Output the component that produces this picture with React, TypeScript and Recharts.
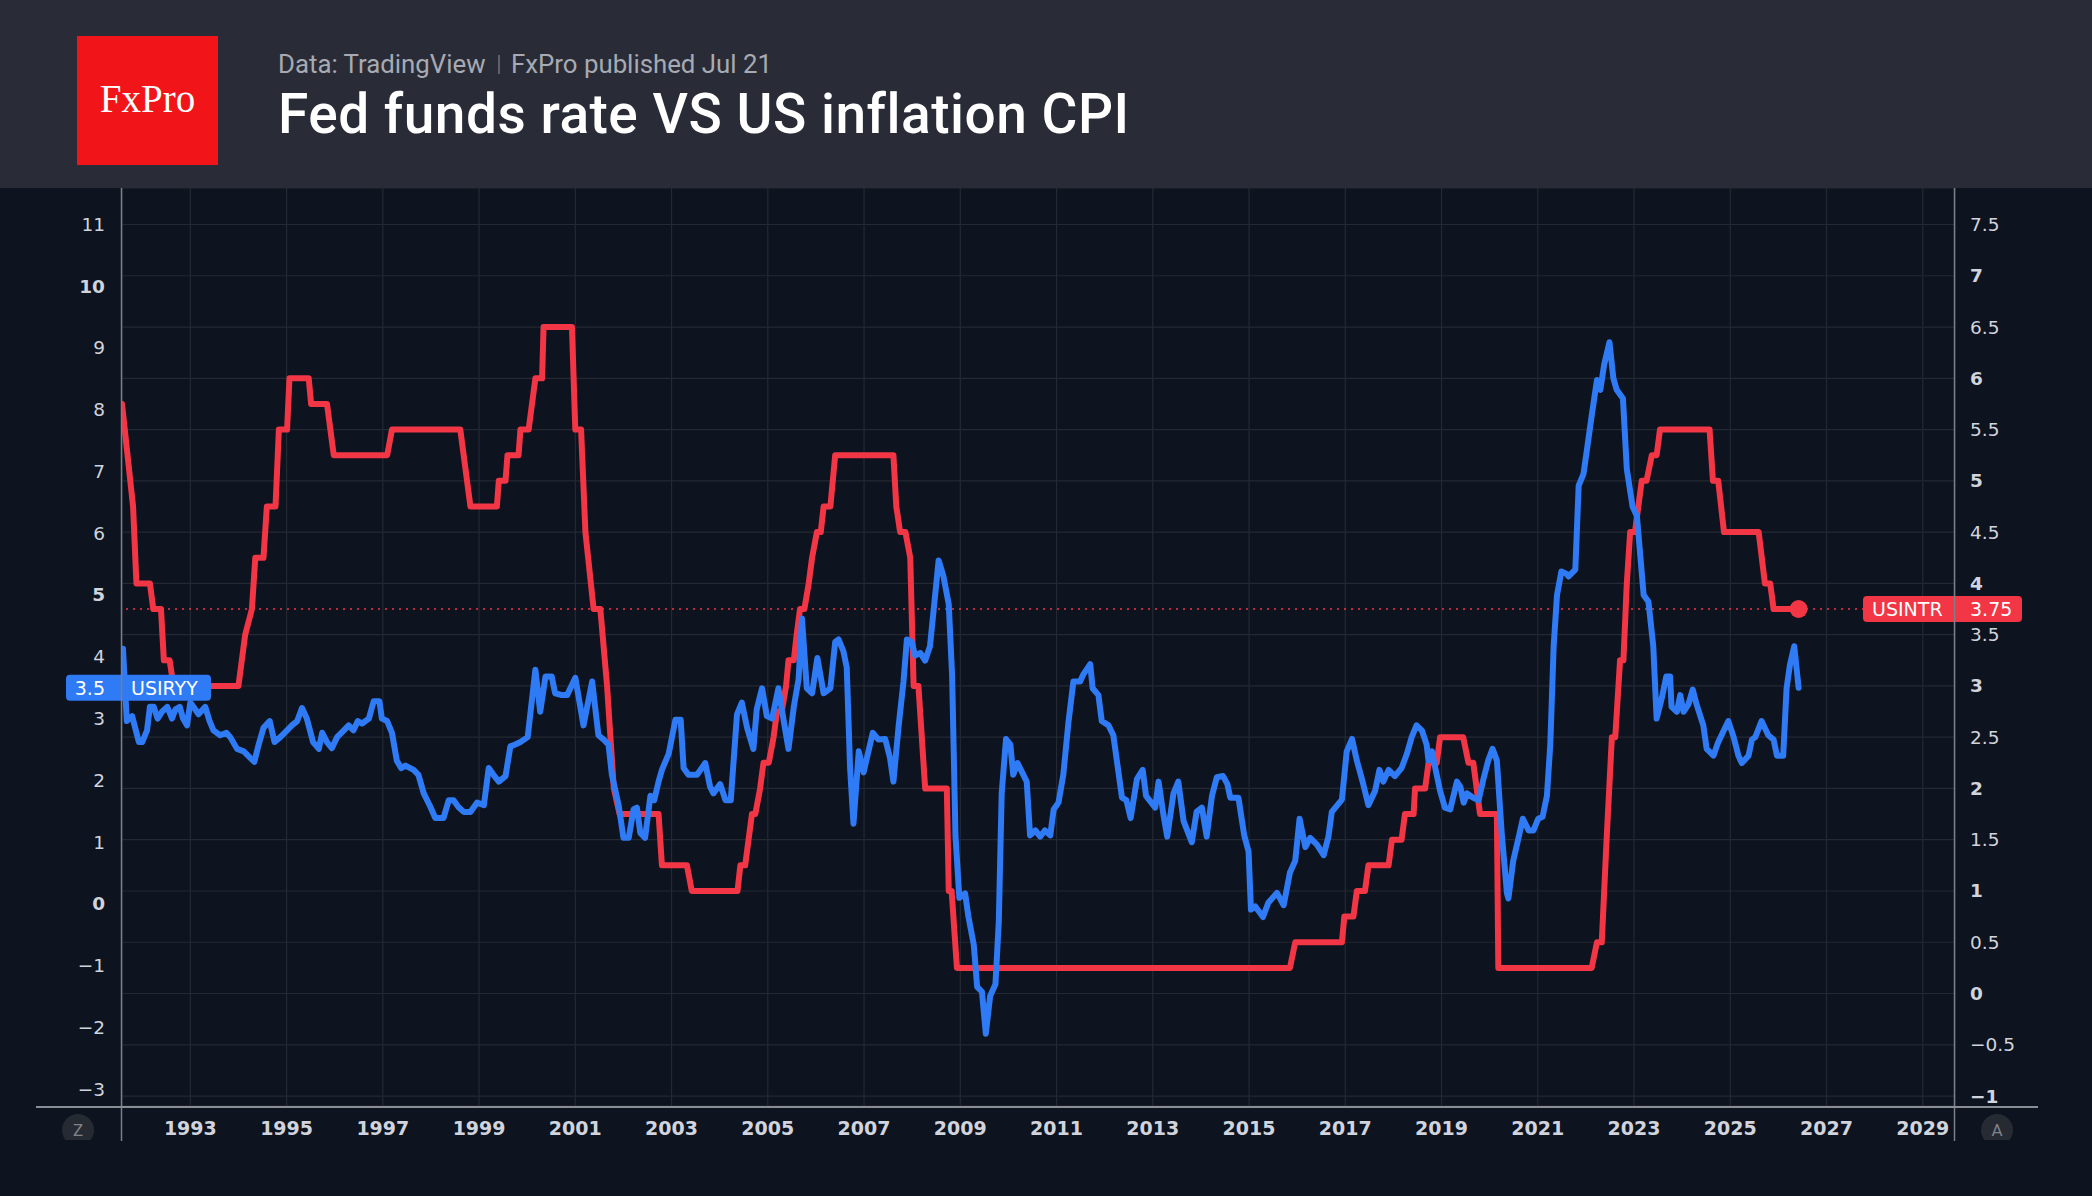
import React from 'react';
import {
  LineChart,
  Line,
  XAxis,
  YAxis,
  CartesianGrid,
  ReferenceLine,
  ReferenceDot,
} from 'recharts';

// axis ticks
const yearTicks = [1993, 1995, 1997, 1999, 2001, 2003, 2005, 2007, 2009, 2011, 2013, 2015, 2017, 2019, 2021, 2023, 2025, 2027, 2029];
const cpiTicks = [-3, -2, -1, 0, 1, 2, 3, 4, 5, 6, 7, 8, 9, 10, 11];
const rateTicks = [-1, -0.5, 0, 0.5, 1, 1.5, 2, 2.5, 3, 3.5, 4, 4.5, 5, 5.5, 6, 6.5, 7, 7.5];

// USINTR: Fed funds target rate, % (decimal year, value)
const fedFunds: [number, number][] = [
  [1991.58, 5.75], [1991.81, 4.75], [1991.88, 4.0], [1992.16, 4.0], [1992.23, 3.75], [1992.39, 3.75],
  [1992.45, 3.25], [1992.57, 3.25], [1992.65, 3.0], [1994.0, 3.0], [1994.14, 3.5], [1994.28, 3.75],
  [1994.35, 4.25], [1994.52, 4.25], [1994.59, 4.75], [1994.77, 4.75], [1994.84, 5.5], [1995.01, 5.5],
  [1995.06, 6.0], [1995.46, 6.0], [1995.51, 5.75], [1995.84, 5.75], [1995.98, 5.25], [1997.09, 5.25],
  [1997.19, 5.5], [1998.61, 5.5], [1998.82, 4.75], [1999.37, 4.75], [1999.41, 5.0], [1999.55, 5.0],
  [1999.59, 5.25], [1999.82, 5.25], [1999.86, 5.5], [2000.03, 5.5], [2000.17, 6.0], [2000.31, 6.0],
  [2000.34, 6.5], [2000.93, 6.5], [2001.0, 5.5], [2001.12, 5.5], [2001.21, 4.5], [2001.38, 3.75],
  [2001.52, 3.75], [2001.66, 3.0], [2001.8, 2.0], [2001.92, 1.75], [2002.73, 1.75], [2002.8, 1.25],
  [2003.32, 1.25], [2003.42, 1.0], [2004.37, 1.0], [2004.43, 1.25], [2004.53, 1.25], [2004.6, 1.5],
  [2004.67, 1.75], [2004.74, 1.75], [2004.84, 2.0], [2004.91, 2.25], [2005.02, 2.25], [2005.12, 2.5],
  [2005.19, 2.75], [2005.29, 2.75], [2005.38, 3.0], [2005.43, 3.25], [2005.54, 3.25], [2005.6, 3.5],
  [2005.67, 3.75], [2005.76, 3.75], [2005.85, 4.0], [2005.92, 4.25], [2006.02, 4.5], [2006.1, 4.5],
  [2006.16, 4.75], [2006.3, 4.75], [2006.4, 5.25], [2007.61, 5.25], [2007.67, 4.75], [2007.75, 4.5],
  [2007.86, 4.5], [2007.96, 4.25], [2008.03, 3.0], [2008.13, 3.0], [2008.27, 2.0], [2008.72, 2.0],
  [2008.76, 1.0], [2008.82, 1.0], [2008.93, 0.25], [2015.85, 0.25], [2015.96, 0.5], [2016.93, 0.5],
  [2016.98, 0.75], [2017.17, 0.75], [2017.24, 1.0], [2017.41, 1.0], [2017.48, 1.25], [2017.9, 1.25],
  [2017.97, 1.5], [2018.17, 1.5], [2018.24, 1.75], [2018.42, 1.75], [2018.45, 2.0], [2018.66, 2.0],
  [2018.73, 2.25], [2018.9, 2.25], [2018.97, 2.5], [2019.45, 2.5], [2019.56, 2.25], [2019.66, 2.25],
  [2019.8, 1.75], [2020.15, 1.75], [2020.18, 0.25], [2022.12, 0.25], [2022.23, 0.5], [2022.33, 0.5],
  [2022.43, 1.5], [2022.54, 2.5], [2022.61, 2.5], [2022.71, 3.25], [2022.78, 3.25], [2022.85, 4.0],
  [2022.92, 4.5], [2023.02, 4.5], [2023.16, 5.0], [2023.26, 5.0], [2023.37, 5.25], [2023.47, 5.25],
  [2023.54, 5.5], [2024.57, 5.5], [2024.64, 5.0], [2024.75, 5.0], [2024.87, 4.5], [2025.59, 4.5],
  [2025.72, 4.0], [2025.83, 4.0], [2025.9, 3.75], [2026.42, 3.75],
];

// USIRYY: CPI inflation, % year over year (decimal year, value)
const cpiYoY: [number, number][] = [
  [1991.6, 4.13], [1991.68, 2.96], [1991.79, 3.04], [1991.93, 2.62], [1992.0, 2.62], [1992.1, 2.81],
  [1992.16, 3.19], [1992.24, 3.19], [1992.32, 3.0], [1992.41, 3.11], [1992.52, 3.19], [1992.62, 3.0],
  [1992.69, 3.15], [1992.78, 3.19], [1992.85, 3.0], [1992.93, 2.89], [1993.0, 3.26], [1993.1, 3.15],
  [1993.17, 3.07], [1993.31, 3.19], [1993.4, 2.96], [1993.48, 2.81], [1993.62, 2.73], [1993.75, 2.77],
  [1993.83, 2.7], [1993.97, 2.51], [1994.11, 2.47], [1994.25, 2.36], [1994.33, 2.3], [1994.42, 2.58],
  [1994.52, 2.85], [1994.65, 2.96], [1994.75, 2.62], [1994.87, 2.7], [1995.01, 2.81], [1995.11, 2.89],
  [1995.22, 2.96], [1995.32, 3.17], [1995.42, 3.0], [1995.55, 2.62], [1995.67, 2.51], [1995.74, 2.77],
  [1995.84, 2.62], [1995.94, 2.52], [1996.05, 2.7], [1996.19, 2.81], [1996.29, 2.89], [1996.39, 2.81],
  [1996.48, 2.96], [1996.57, 2.92], [1996.71, 3.0], [1996.81, 3.28], [1996.93, 3.28], [1996.98, 3.0],
  [1997.09, 2.96], [1997.19, 2.77], [1997.29, 2.32], [1997.38, 2.2], [1997.47, 2.24], [1997.64, 2.17],
  [1997.74, 2.09], [1997.85, 1.79], [1997.99, 1.57], [1998.09, 1.39], [1998.26, 1.39], [1998.37, 1.68],
  [1998.47, 1.68], [1998.57, 1.57], [1998.68, 1.49], [1998.82, 1.49], [1998.96, 1.64], [1999.1, 1.6],
  [1999.2, 2.2], [1999.3, 2.09], [1999.41, 1.98], [1999.55, 2.07], [1999.65, 2.55], [1999.75, 2.58],
  [1999.86, 2.62], [2000.01, 2.7], [2000.17, 3.79], [2000.27, 3.11], [2000.38, 3.68], [2000.51, 3.68],
  [2000.58, 3.41], [2000.72, 3.38], [2000.83, 3.38], [2001.0, 3.66], [2001.17, 2.89], [2001.35, 3.6],
  [2001.48, 2.73], [2001.59, 2.66], [2001.69, 2.58], [2001.76, 2.09], [2001.9, 1.6], [2002.0, 1.07],
  [2002.11, 1.07], [2002.21, 1.53], [2002.28, 1.56], [2002.35, 1.15], [2002.45, 1.07], [2002.56, 1.75],
  [2002.64, 1.68], [2002.73, 1.98], [2002.8, 2.17], [2002.94, 2.43], [2003.08, 2.98], [2003.19, 2.98],
  [2003.25, 2.2], [2003.35, 2.09], [2003.53, 2.09], [2003.7, 2.28], [2003.8, 1.9], [2003.87, 1.79],
  [2004.01, 1.94], [2004.12, 1.68], [2004.23, 1.68], [2004.36, 3.07], [2004.46, 3.26], [2004.57, 2.85],
  [2004.7, 2.51], [2004.77, 3.15], [2004.88, 3.49], [2004.98, 3.04], [2005.09, 3.0], [2005.22, 3.49],
  [2005.29, 3.15], [2005.43, 2.51], [2005.54, 3.19], [2005.64, 3.64], [2005.71, 4.62], [2005.81, 3.49],
  [2005.92, 3.41], [2006.03, 3.98], [2006.16, 3.41], [2006.3, 3.49], [2006.4, 4.24], [2006.47, 4.28],
  [2006.57, 4.09], [2006.64, 3.83], [2006.71, 2.2], [2006.78, 1.3], [2006.89, 2.47], [2006.99, 2.13],
  [2007.18, 2.77], [2007.3, 2.66], [2007.44, 2.67], [2007.54, 2.36], [2007.61, 1.98], [2007.72, 2.89],
  [2007.82, 3.6], [2007.89, 4.28], [2007.99, 4.24], [2008.06, 4.02], [2008.17, 4.06], [2008.27, 3.94],
  [2008.37, 4.17], [2008.55, 5.56], [2008.65, 5.3], [2008.76, 4.85], [2008.83, 3.7], [2008.9, 1.1],
  [2008.98, 0.1], [2009.1, 0.17], [2009.17, -0.21], [2009.28, -0.66], [2009.35, -1.34], [2009.45, -1.42],
  [2009.53, -2.1], [2009.62, -1.49], [2009.73, -1.3], [2009.8, -0.28], [2009.86, 1.79], [2009.95, 2.67],
  [2010.04, 2.58], [2010.1, 2.09], [2010.19, 2.28], [2010.38, 1.98], [2010.45, 1.11], [2010.56, 1.19],
  [2010.66, 1.09], [2010.76, 1.19], [2010.87, 1.11], [2010.94, 1.53], [2011.04, 1.64], [2011.14, 2.09],
  [2011.25, 2.96], [2011.35, 3.6], [2011.49, 3.6], [2011.56, 3.72], [2011.7, 3.88], [2011.75, 3.49],
  [2011.87, 3.38], [2011.94, 2.96], [2012.08, 2.89], [2012.18, 2.73], [2012.36, 1.72], [2012.45, 1.68],
  [2012.54, 1.39], [2012.67, 2.02], [2012.79, 2.17], [2012.86, 1.75], [2013.05, 1.56], [2013.12, 1.98],
  [2013.22, 1.45], [2013.3, 1.09], [2013.43, 1.79], [2013.53, 1.98], [2013.64, 1.34], [2013.81, 1.0],
  [2013.91, 1.49], [2014.02, 1.56], [2014.12, 1.09], [2014.23, 1.75], [2014.33, 2.05], [2014.46, 2.07],
  [2014.55, 1.94], [2014.61, 1.72], [2014.78, 1.72], [2014.9, 1.11], [2014.99, 0.85], [2015.04, -0.09],
  [2015.13, -0.04], [2015.29, -0.21], [2015.4, 0.02], [2015.58, 0.18], [2015.72, -0.02], [2015.85, 0.51],
  [2015.96, 0.7], [2016.05, 1.38], [2016.17, 0.92], [2016.27, 1.07], [2016.41, 0.96], [2016.55, 0.79],
  [2016.65, 1.09], [2016.72, 1.49], [2016.93, 1.69], [2017.03, 2.47], [2017.14, 2.67], [2017.24, 2.32],
  [2017.36, 1.98], [2017.48, 1.6], [2017.62, 1.83], [2017.71, 2.17], [2017.79, 1.98], [2017.9, 2.17],
  [2018.03, 2.07], [2018.17, 2.2], [2018.28, 2.43], [2018.38, 2.7], [2018.48, 2.89], [2018.59, 2.81],
  [2018.69, 2.58], [2018.73, 2.32], [2018.8, 2.47], [2018.87, 2.2], [2018.97, 1.83], [2019.07, 1.56],
  [2019.18, 1.53], [2019.32, 1.98], [2019.39, 1.9], [2019.46, 1.64], [2019.53, 1.79], [2019.66, 1.72],
  [2019.77, 1.68], [2019.87, 2.02], [2019.97, 2.32], [2020.06, 2.51], [2020.15, 2.32], [2020.25, 1.15],
  [2020.36, 0.17], [2020.39, 0.09], [2020.49, 0.7], [2020.6, 1.07], [2020.69, 1.38], [2020.81, 1.19],
  [2020.91, 1.19], [2021.01, 1.38], [2021.1, 1.41], [2021.19, 1.75], [2021.26, 2.58], [2021.33, 4.17],
  [2021.4, 5.0], [2021.49, 5.38], [2021.6, 5.34], [2021.64, 5.3], [2021.78, 5.41], [2021.85, 6.77],
  [2021.95, 6.96], [2022.02, 7.34], [2022.12, 7.9], [2022.23, 8.48], [2022.3, 8.32], [2022.38, 8.73],
  [2022.49, 9.09], [2022.57, 8.51], [2022.64, 8.32], [2022.77, 8.18], [2022.85, 7.04], [2022.97, 6.43],
  [2023.06, 6.28], [2023.2, 5.0], [2023.3, 4.89], [2023.4, 4.17], [2023.47, 3.0], [2023.58, 3.34],
  [2023.67, 3.68], [2023.75, 3.68], [2023.78, 3.19], [2023.89, 3.11], [2023.96, 3.38], [2024.03, 3.11],
  [2024.13, 3.23], [2024.22, 3.47], [2024.3, 3.23], [2024.44, 2.89], [2024.51, 2.51], [2024.65, 2.4],
  [2024.75, 2.62], [2024.96, 2.96], [2025.07, 2.7], [2025.17, 2.4], [2025.24, 2.28], [2025.38, 2.4],
  [2025.45, 2.66], [2025.52, 2.7], [2025.65, 2.96], [2025.79, 2.73], [2025.9, 2.66], [2025.97, 2.4],
  [2026.1, 2.4], [2026.17, 3.49], [2026.24, 3.87], [2026.33, 4.17], [2026.42, 3.5],
];

const fedData = fedFunds.map(([t, v]) => ({ t, v }));
const cpiData = cpiYoY.map(([t, v]) => ({ t, v }));
const lastFed = fedFunds[fedFunds.length - 1];
const lastCpi = cpiYoY[cpiYoY.length - 1];

const W = 2092;
const H = 1196;
const HEADER_H = 188;
const RED = '#f23645';
const BLUE = '#2f7af5';
const BG = '#0d131f';
const TICK_COLOR = '#d1d4dc';
const AXIS_FONT = '"DejaVu Sans", sans-serif';

const fmt = (v: number) => (v < 0 ? '\u2212' + Math.abs(v) : String(v));

function CpiTick({ x, y, payload }: any) {
  const bold = payload.value % 5 === 0;
  return (
    <text x={x} y={y} textAnchor="end" dominantBaseline="central" fill={TICK_COLOR}
      fontFamily={AXIS_FONT} fontSize={18.5} fontWeight={bold ? 700 : 400}>
      {fmt(payload.value)}
    </text>
  );
}

function RateTick({ x, y, payload }: any) {
  const bold = Number.isInteger(payload.value);
  return (
    <text x={x} y={y} textAnchor="start" dominantBaseline="central" fill={TICK_COLOR}
      fontFamily={AXIS_FONT} fontSize={18.5} fontWeight={bold ? 700 : 400}>
      {fmt(payload.value)}
    </text>
  );
}

function YearTick({ x, y, payload }: any) {
  return (
    <text x={x} y={y} textAnchor="middle" dominantBaseline="central" fill={TICK_COLOR}
      fontFamily={AXIS_FONT} fontSize={19} fontWeight={700}>
      {payload.value}
    </text>
  );
}

// price tag on the left scale: value | ticker
function CpiTag({ viewBox }: any) {
  const x = viewBox.x;
  const y = viewBox.y;
  return (
    <g>
      <rect x={x - 56} y={y - 13} width={145} height={26} rx={4} fill={BLUE} />
      <text x={x - 17} y={y} textAnchor="end" dominantBaseline="central" fill="#fff"
        fontFamily={AXIS_FONT} fontSize={19}>{fmt(lastCpi[1])}</text>
      <text x={x + 9} y={y} textAnchor="start" dominantBaseline="central" fill="#fff"
        fontFamily={AXIS_FONT} fontSize={19}>USIRYY</text>
    </g>
  );
}

// price tag on the right scale: ticker | value
function FedTag({ viewBox }: any) {
  const r = viewBox.x + viewBox.width;
  const y = viewBox.y;
  return (
    <g>
      <rect x={r - 92} y={y - 13} width={159} height={26} rx={4} fill={RED} />
      <text x={r - 83} y={y} textAnchor="start" dominantBaseline="central" fill="#fff"
        fontFamily={AXIS_FONT} fontSize={19}>USINTR</text>
      <text x={r + 15} y={y} textAnchor="start" dominantBaseline="central" fill="#fff"
        fontFamily={AXIS_FONT} fontSize={19}>{lastFed[1].toFixed(2)}</text>
    </g>
  );
}

function Header() {
  return (
    <svg width={W} height={HEADER_H} style={{ position: 'absolute', left: 0, top: 0, display: 'block' }}>
      <rect x={0} y={0} width={W} height={HEADER_H} fill="#292c37" />
      <rect x={77} y={36} width={141} height={129} fill="#f11419" />
      <text x={147.5} y={112} textAnchor="middle" fill="#fff"
        fontFamily='"Liberation Serif", serif' fontSize={39}>FxPro</text>
      <text x={278} y={73} fill="#a7aab2" fontFamily="Roboto, sans-serif" fontSize={25.8}>Data: TradingView</text>
      <line x1={499} y1={55} x2={499} y2={74} stroke="#70737b" strokeWidth={1.5} />
      <text x={511} y={73} fill="#a7aab2" fontFamily="Roboto, sans-serif" fontSize={25.8}>FxPro published Jul 21</text>
      <text x={278} y={133} fill="#fff" fontFamily="Roboto, sans-serif" fontSize={55} fontWeight={500}
        letterSpacing={0.5}>
        Fed funds rate VS US inflation CPI
      </text>
    </svg>
  );
}

// scale borders and the two corner buttons under the time scale
function ScaleFrame() {
  return (
    <svg width={W} height={H} style={{ position: 'absolute', left: 0, top: 0, pointerEvents: 'none' }}>
      <defs>
        <clipPath id="scaleStrip">
          <rect x={0} y={1107} width={W} height={33} />
        </clipPath>
      </defs>
      <line x1={121.5} y1={HEADER_H} x2={121.5} y2={1141} stroke="#7c7f87" strokeWidth={1.5} />
      <line x1={1954.5} y1={HEADER_H} x2={1954.5} y2={1141} stroke="#7c7f87" strokeWidth={1.5} />
      <line x1={36} y1={1107} x2={2038} y2={1107} stroke="#8a8d94" strokeWidth={2} />
      <g clipPath="url(#scaleStrip)">
        <circle cx={78} cy={1130} r={16} fill="#262a33" />
        <circle cx={1997} cy={1130} r={16} fill="#262a33" />
      </g>
      <text x={78} y={1130} textAnchor="middle" dominantBaseline="central" fill="#80838b"
        fontFamily="Roboto, sans-serif" fontSize={17}>Z</text>
      <text x={1997} y={1130} textAnchor="middle" dominantBaseline="central" fill="#80838b"
        fontFamily="Roboto, sans-serif" fontSize={17}>A</text>
    </svg>
  );
}

export default function App() {
  return (
    <div style={{ position: 'absolute', left: 0, top: 0, width: W, height: H, background: BG, overflow: 'hidden' }}>
      <Header />
      <div style={{ position: 'absolute', left: 0, top: HEADER_H }}>
        <LineChart width={W} height={H - HEADER_H} margin={{ top: 0, right: 0, bottom: 0, left: 0 }}>
          <CartesianGrid yAxisId="right" stroke="#252932" strokeWidth={1.2} />
          <XAxis
            dataKey="t"
            type="number"
            domain={[1991.58, 2029.67]}
            allowDataOverflow
            ticks={yearTicks}
            height={90}
            tickSize={0}
            tickMargin={22}
            axisLine={false}
            tickLine={false}
            tick={YearTick}
          />
          <YAxis
            yAxisId="left"
            orientation="left"
            type="number"
            domain={[-3.269, 11.586]}
            allowDataOverflow
            ticks={cpiTicks}
            width={122}
            tickSize={0}
            tickMargin={17}
            axisLine={false}
            tickLine={false}
            tick={CpiTick}
          />
          <YAxis
            yAxisId="right"
            orientation="right"
            type="number"
            domain={[-1.097, 7.856]}
            allowDataOverflow
            ticks={rateTicks}
            width={137}
            tickSize={0}
            tickMargin={15}
            axisLine={false}
            tickLine={false}
            tick={RateTick}
          />
          <ReferenceLine yAxisId="right" y={lastFed[1]} stroke={RED} strokeWidth={1.5} strokeDasharray="2 5" />
          <Line
            data={fedData}
            dataKey="v"
            yAxisId="right"
            type="linear"
            stroke={RED}
            strokeWidth={6}
            strokeLinejoin="round"
            strokeLinecap="round"
            dot={false}
            isAnimationActive={false}
          />
          <Line
            data={cpiData}
            dataKey="v"
            yAxisId="left"
            type="linear"
            stroke={BLUE}
            strokeWidth={6}
            strokeLinejoin="round"
            strokeLinecap="round"
            dot={false}
            isAnimationActive={false}
          />
          <ReferenceDot yAxisId="right" x={lastFed[0]} y={lastFed[1]} r={9} fill={RED} stroke="none" />
          <ReferenceLine yAxisId="left" y={lastCpi[1]} stroke="none" label={(p: any) => <CpiTag {...p} />} />
          <ReferenceLine yAxisId="right" y={lastFed[1]} stroke="none" label={(p: any) => <FedTag {...p} />} />
        </LineChart>
      </div>
      <ScaleFrame />
    </div>
  );
}
